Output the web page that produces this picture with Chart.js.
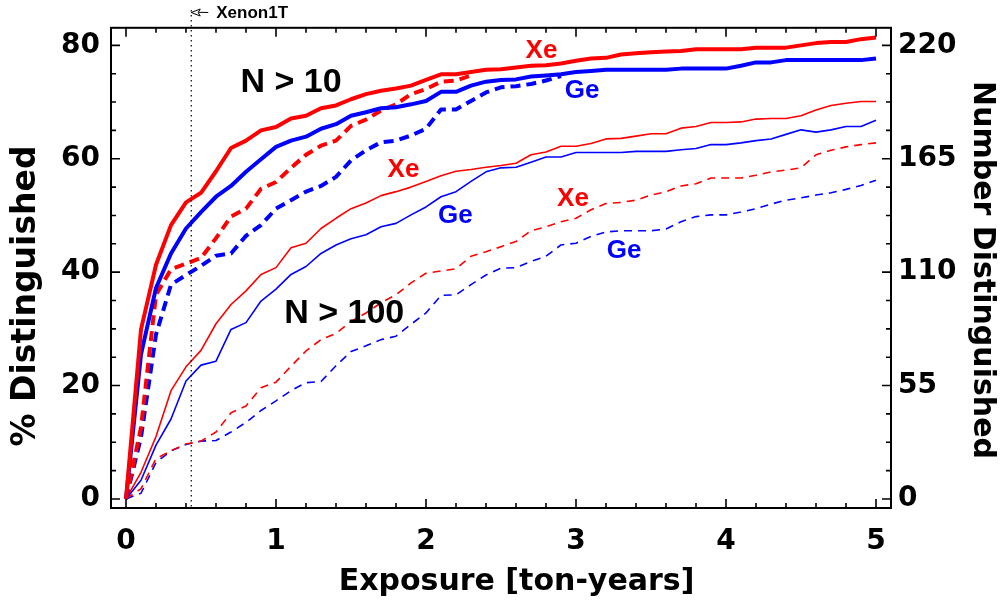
<!DOCTYPE html>
<html>
<head>
<meta charset="utf-8">
<script src="https://cdn.jsdelivr.net/npm/chart.js@4.4.0/dist/chart.umd.min.js"></script>
<style>
html,body{margin:0;padding:0;background:#ffffff;}
#wrap{width:1006px;height:606px;position:relative;}
</style>
</head>
<body>
<div id="wrap"><canvas id="c" width="1006" height="606"></canvas></div>
<script>
// ---------------- DATA ----------------
const exposure = [0.0,0.1,0.2,0.3,0.4,0.5,0.6,0.7,0.8,0.9,
                  1.0,1.1,1.2,1.3,1.4,1.5,1.6,1.7,1.8,1.9,
                  2.0,2.1,2.2,2.3,2.4,2.5,2.6,2.7,2.8,2.9,
                  3.0,3.1,3.2,3.3,3.4,3.5,3.6,3.7,3.8,3.9,
                  4.0,4.1,4.2,4.3,4.4,4.5,4.6,4.7,4.8,4.9,5.0];

// N > 10, solid (thick)
const xeN10 = [0,29.9,41.3,48.3,52.3,54.0,57.8,61.9,63.2,65.0,
               65.6,67.1,67.6,68.9,69.4,70.5,71.4,72.0,72.4,72.9,
               73.9,74.9,74.9,75.3,75.7,75.8,76.1,76.4,76.5,76.8,
               77.3,77.7,77.8,78.4,78.6,78.8,78.9,79.0,79.3,79.3,
               79.3,79.3,79.6,79.6,79.6,80.0,80.4,80.6,80.6,81.1,81.4];
const geN10 = [0,25.5,37.2,43.3,47.7,50.6,53.3,55.2,57.7,59.9,
               62.1,63.2,63.9,65.3,66.1,67.6,68.2,68.9,69.1,69.6,
               70.2,71.8,71.8,72.9,73.6,73.9,74.0,74.5,74.7,74.9,
               75.3,75.5,75.7,75.7,75.7,75.7,75.7,75.9,75.9,75.9,
               75.9,76.4,77.0,77.0,77.4,77.4,77.4,77.4,77.4,77.4,77.7];
// N > 10, dashed (thick)
const xeN10Dashed = [0,12.6,36.0,40.5,41.5,42.5,46.0,49.8,51.2,54.7,
                     55.9,58.4,60.7,62.3,63.2,65.8,66.9,68.5,69.6,71.4,
                     72.3,73.6,73.8,74.7];
const geN10Dashed = [0,10.9,29.0,37.8,39.5,41.1,42.9,43.3,46.4,48.3,
                     51.2,52.7,54.2,55.2,56.8,59.7,61.5,62.9,63.2,64.1,
                     65.3,68.7,68.7,70.2,71.7,72.6,72.8,73.2,73.8,74.6];
// N > 100, solid (thin)
const xeN100 = [0,4.7,11.0,19.1,23.3,26.2,30.9,34.3,36.7,39.6,
                40.8,44.3,45.1,47.7,49.5,51.2,52.2,53.5,54.2,55.0,
                56.0,57.0,57.8,58.1,58.5,58.8,59.2,60.7,61.2,62.2,
                62.2,62.7,63.5,63.6,64.0,64.4,64.4,65.4,65.7,66.4,
                66.4,66.5,67.0,67.1,67.1,67.6,68.6,69.4,69.8,70.1,70.1];
const geN100 = [0,3.3,9.5,14.1,20.8,23.6,24.3,29.9,31.1,34.9,
                37.0,39.6,41.0,43.3,44.8,45.9,46.6,48.0,48.6,50.1,
                51.5,53.3,54.2,56.0,57.7,58.4,58.5,59.4,60.3,60.3,
                61.1,61.1,61.1,61.1,61.3,61.3,61.3,61.6,61.8,62.5,
                62.5,62.8,63.2,63.5,64.3,65.1,64.7,65.1,65.7,65.7,66.8];
// N > 100, dashed (thin)
const xeN100Dashed = [0,1.8,7.1,8.5,9.7,10.2,11.8,15.2,16.4,19.6,
                      20.6,23.4,26.1,28.1,29.2,31.3,32.8,34.6,36.0,38.1,
                      39.8,40.2,40.6,42.8,43.6,44.5,45.4,47.3,48.0,48.9,
                      49.5,51.0,52.1,52.3,52.7,53.6,54.2,55.2,55.6,56.6,
                      56.6,56.6,57.1,57.7,58.0,58.4,60.7,61.5,62.1,62.5,62.8];
const geN100Dashed = [0,1.0,6.4,8.5,9.6,10.2,10.3,11.8,13.5,15.6,
                      17.3,19.1,20.5,20.7,23.5,26.0,27.0,28.1,28.7,30.8,
                      32.8,35.9,36.0,37.8,39.5,40.7,40.8,41.9,42.8,44.8,
                      45.1,46.3,47.1,47.3,47.3,47.3,47.6,48.9,49.8,50.1,
                      50.1,50.6,51.2,52.0,52.7,53.1,53.6,54.0,54.6,55.3,56.2];

// tick labels
const xTickValues = [0,1,2,3,4,5];
const yTickValues = [0,20,40,60,80];
const y2TickValues = [0,55,110,165,220];
const numberPerPercent = 2.75;   // 220 distinguished == 80 %

// reference marker
const xenon1TExposure = 0.435;
const xenon1TLabel = 'Xenon1T';

// in-plot labels (text and data coordinates)
const labelTexts  = ['N > 10','N > 100','Xe','Ge','Xe','Ge','Xe','Ge'];
const labelX      = [1.10, 1.455, 2.77, 3.04, 1.85, 2.195, 2.98, 3.32];
const labelY      = [73.4, 32.7, 79.1, 71.9, 58.0, 49.9, 52.9, 43.8];

// ---------------- STYLE ----------------
const RED = '#ff0000', BLUE = '#0000ff';
const labelColors = ['#000000','#000000',RED,BLUE,RED,BLUE,RED,BLUE];
const labelSizes  = [34,34,26,26,26,26,26,26];

function pts(vals){
  const out = [];
  for (let i = 0; i < vals.length; i++) out.push({x: exposure[i], y: vals[i]});
  return out;
}
function ds(label, vals, color, width, dash){
  return {label, data: pts(vals), borderColor: color, backgroundColor: color,
          borderWidth: width, borderDash: dash, pointRadius: 0, tension: 0,
          fill: false, borderCapStyle: 'butt', borderJoinStyle: 'round', yAxisID: 'y'};
}

const datasets = [
  ds('Xe N>10', xeN10, RED, 4, []),
  ds('Ge N>10', geN10, BLUE, 4, []),
  ds('Xe N>10 dashed', xeN10Dashed, RED, 4, [10,6]),
  ds('Ge N>10 dashed', geN10Dashed, BLUE, 4, [10,6]),
  ds('Xe N>100', xeN100, RED, 1.6, []),
  ds('Ge N>100', geN100, BLUE, 1.6, []),
  ds('Xe N>100 dashed', xeN100Dashed, RED, 1.6, [8,6]),
  ds('Ge N>100 dashed', geN100Dashed, BLUE, 1.6, [8,6])
];

const Y_MIN = -1.6, Y_MAX = 83.1;
const tickFont = {family: 'DejaVu Sans', weight: 'bold', size: 28};
const TITLE_FONT = '"DejaVu Sans"';

const decor = {
  id: 'decor',
  afterDatasetsDraw(chart){
    const {ctx, chartArea, scales} = chart;
    const {left, right, top, bottom} = chartArea;
    const x = scales.x, y = scales.y, y2 = scales.y2;
    ctx.save();

    // Xenon1T dotted marker
    const xp = x.getPixelForValue(xenon1TExposure);
    ctx.strokeStyle = '#000'; ctx.lineWidth = 1.2;
    ctx.setLineDash([1.5, 3.5]);
    ctx.beginPath(); ctx.moveTo(xp, 10); ctx.lineTo(xp, bottom); ctx.stroke();
    ctx.setLineDash([]);
    // small open arrow pointing left
    ctx.lineWidth = 1;
    ctx.beginPath();
    ctx.moveTo(xp, 12.5); ctx.lineTo(xp + 9, 9); ctx.lineTo(xp + 7, 12.3);
    ctx.lineTo(xp + 17, 12.5); ctx.moveTo(xp + 7, 12.7); ctx.lineTo(xp + 9, 16); ctx.lineTo(xp, 12.5);
    ctx.stroke();
    ctx.fillStyle = '#000';
    ctx.font = 'bold 17px "Liberation Sans"';
    ctx.textAlign = 'left'; ctx.textBaseline = 'alphabetic';
    ctx.fillText(xenon1TLabel, xp + 25, 18);

    // frame
    ctx.lineWidth = 2;
    ctx.strokeRect(left, top, right - left, bottom - top);

    // inward ticks
    ctx.lineWidth = 1.6;
    ctx.beginPath();
    for (let k = 0; k <= 25; k++) {
      const v = k * 0.2;
      const px = x.getPixelForValue(v);
      const len = (k % 5 === 0) ? 9 : 5;
      ctx.moveTo(px, bottom); ctx.lineTo(px, bottom - len);
      ctx.moveTo(px, top); ctx.lineTo(px, top + len);
    }
    for (let k = 0; k <= 16; k++) {
      const v = k * 5;
      const py = y.getPixelForValue(v);
      const len = (k % 4 === 0) ? 9 : 5;
      ctx.moveTo(left, py); ctx.lineTo(left + len, py);
    }
    for (let k = 0; k <= 16; k++) {
      const v = k * 5 * numberPerPercent;
      const py = y2.getPixelForValue(v);
      const len = (k % 4 === 0) ? 9 : 5;
      ctx.moveTo(right, py); ctx.lineTo(right - len, py);
    }
    ctx.stroke();

    // in-plot labels
    ctx.textAlign = 'center'; ctx.textBaseline = 'middle';
    for (let i = 0; i < labelTexts.length; i++) {
      ctx.fillStyle = labelColors[i];
      ctx.font = 'bold ' + labelSizes[i] + 'px "Liberation Sans"';
      ctx.fillText(labelTexts[i], x.getPixelForValue(labelX[i]), y.getPixelForValue(labelY[i]));
    }

    // axis titles
    ctx.fillStyle = '#000';
    ctx.textAlign = 'center'; ctx.textBaseline = 'alphabetic';
    let s = 30;
    ctx.font = 'bold ' + s + 'px ' + TITLE_FONT;
    ctx.fillText('Exposure [ton-years]', 516.5, 579 + 0.729 * s / 2);

    s = 33;
    ctx.save();
    ctx.translate(22.5, 296);
    ctx.rotate(-Math.PI / 2);
    ctx.font = 'bold ' + s + 'px ' + TITLE_FONT;
    ctx.fillText('% Distinguished', 0, 0.729 * s / 2);
    ctx.restore();

    s = 30;
    ctx.save();
    ctx.translate(985, 270);
    ctx.rotate(Math.PI / 2);
    ctx.font = 'bold ' + s + 'px ' + TITLE_FONT;
    ctx.fillText('Number Distinguished', 0, 0.729 * s / 2);
    ctx.restore();

    ctx.restore();
  }
};

new Chart(document.getElementById('c'), {
  type: 'line',
  data: {datasets},
  options: {
    responsive: false,
    animation: false,
    devicePixelRatio: 1,
    layout: {padding: {top: 25, left: 0, right: 0, bottom: 0}},
    plugins: {legend: {display: false}, tooltip: {enabled: false}, title: {display: false}},
    scales: {
      x: {
        type: 'linear', position: 'bottom', min: -0.1, max: 5.1,
        afterBuildTicks: s => { s.ticks = xTickValues.map(v => ({value: v})); },
        afterFit: s => { s.height = 98; },
        grid: {display: false, drawTicks: false},
        border: {display: false},
        title: {display: false},
        ticks: {font: tickFont, color: '#000', padding: 17, maxRotation: 0, autoSkip: false}
      },
      y: {
        type: 'linear', position: 'left', min: Y_MIN, max: Y_MAX,
        afterBuildTicks: s => { s.ticks = yTickValues.map(v => ({value: v})); },
        afterFit: s => { s.width = 111; },
        grid: {display: false, drawTicks: false},
        border: {display: false},
        ticks: {font: tickFont, color: '#000', padding: 11, autoSkip: false}
      },
      y2: {
        type: 'linear', position: 'right', min: Y_MIN * numberPerPercent, max: Y_MAX * numberPerPercent,
        afterBuildTicks: s => { s.ticks = y2TickValues.map(v => ({value: v})); },
        afterFit: s => { s.width = 115; },
        grid: {display: false, drawTicks: false},
        border: {display: false},
        ticks: {font: tickFont, color: '#000', padding: 7, autoSkip: false}
      }
    }
  },
  plugins: [decor]
});
</script>
</body>
</html>
